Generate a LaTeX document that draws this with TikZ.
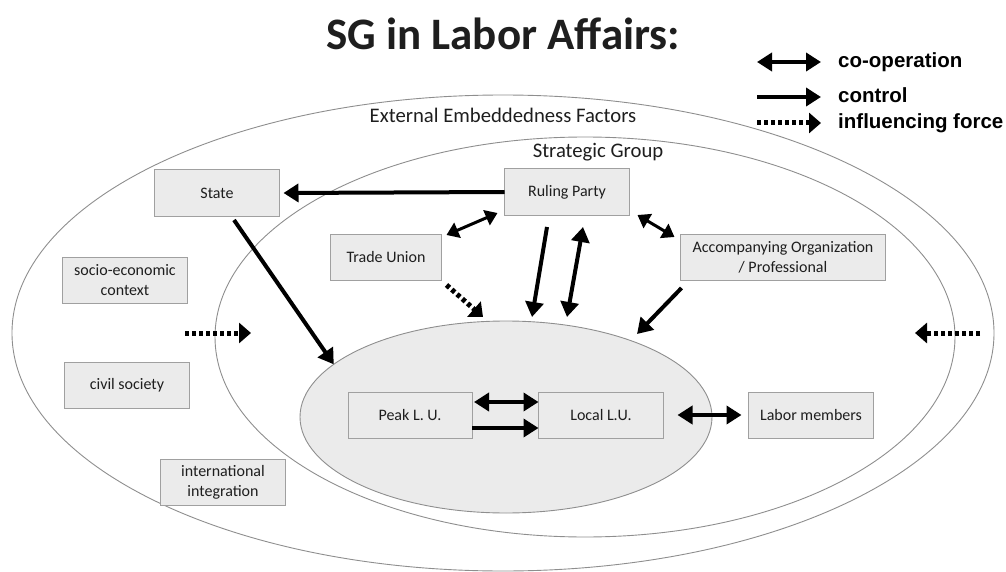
\documentclass[tikz,border=0pt]{standalone}
\usepackage{fontspec}
\setmainfont{Carlito}
\newfontfamily\legendfont{Liberation Sans}
\usetikzlibrary{arrows.meta,shapes.geometric,calc}
\definecolor{boxfill}{HTML}{EBEBEB}
\definecolor{boxline}{HTML}{A0A0A0}
\definecolor{ringline}{HTML}{8E8E8E}
\definecolor{corefill}{HTML}{EBEBEB}
\definecolor{ink}{HTML}{1E1E1E}

\begin{document}
\begin{tikzpicture}[x=1pt,y=-1pt,
  box/.style={draw=boxline, fill=boxfill, line width=1pt, minimum width=125pt,
    minimum height=46pt, inner sep=0pt, outer sep=0pt, align=center,
    font=\fontsize{16}{20}\selectfont, text=ink},
  ring/.style={draw=ringline, line width=0.9pt},
  core/.style={ellipse, draw=ringline, line width=0.9pt, fill=corefill,
    minimum width=412pt, minimum height=192pt, inner sep=0pt, outer sep=0pt},
  ringlabel/.style={font=\fontsize{20.7}{24}\selectfont, text=ink, anchor=base},
  legendtext/.style={font=\legendfont\bfseries\fontsize{20.5}{24}\selectfont,
    anchor=base west, inner sep=0pt},
  ctrl/.style={line width=4pt, -{Triangle[length=15pt,width=18pt]}},
  coop/.style={line width=4pt,
    {Triangle[length=15pt,width=18pt]}-{Triangle[length=15pt,width=18pt]}},
  coopsmall/.style={line width=3pt,
    {Triangle[length=12pt,width=16pt]}-{Triangle[length=12pt,width=16pt]}},
  infl/.style={line width=5pt, dash pattern=on 4pt off 3pt,
    -{Triangle[length=12pt,width=20pt]}},
]
\useasboundingbox (0,0) rectangle (1006,572);

% rings: external factors and strategic group
\draw[ring] (503,333) ellipse [x radius=491pt, y radius=238pt];
\draw[ring] (585,337) ellipse [x radius=370pt, y radius=200pt];

% labor union core
\node[core] (core) at (506,417) {};

% titles
\node[font=\bfseries\fontsize{45}{50}\selectfont, text=ink, anchor=base] (title) at (503,50) {SG in Labor Affairs:};
\node[ringlabel] (ext) at (503,123) {External Embeddedness Factors};
\node[ringlabel] (sg) at (598,158) {Strategic Group};

% actors
\node[box] (state) at (217,193) {State};
\node[box] (rp) at (567,192) {Ruling Party};
\node[box, minimum width=111pt] (tu) at (386,257) {Trade Union};
\node[box, minimum width=205pt] (acc) at (783,257) {Accompanying Organization\\/ Professional};
\node[box] (socio) at (125,280) {socio-economic\\context};
\node[box] (civil) at (127,385) {civil society};
\node[box] (intl) at (223,482) {international\\integration};
\node[box, minimum width=124pt] (peak) at (410,415) {Peak L. U.};
\node[box] (local) at (601,415) {Local L.U.};
\node[box] (labor) at (811,415) {Labor members};

% relations
\draw[ctrl] (rp.west) -- ([xshift=4pt]state.east);
\draw[ctrl] ([shift={(17pt,-4pt)}]state.south) -- (core.163);
\draw[coopsmall] ([shift={(5pt,-1pt)}]tu.north east) -- ([shift={(-7pt,2pt)}]rp.south west);
\draw[infl] ([shift={(5pt,-5pt)}]tu.south east) -- ([shift={(-23pt,4pt)}]core.north);
\draw[ctrl] ([shift={(-20pt,-12pt)}]rp.south) -- ([shift={(26pt,4pt)}]core.north);
\draw[coop] ([shift={(61pt,4pt)}]core.north) -- ([shift={(16pt,-12pt)}]rp.south);
\draw[coopsmall] ([xshift=8pt]rp.south east) -- ([shift={(-6pt,-3pt)}]acc.north west);
\draw[ctrl] ([shift={(1pt,-8pt)}]acc.south west) -- ([shift={(131pt,-13pt)}]core.north);
\draw[coop] ([shift={(2pt,13pt)}]peak.east) -- ([yshift=13pt]local.west);
\draw[ctrl] ([yshift=-13pt]peak.east) -- ([yshift=-13pt]local.west);
\draw[coop] ([xshift=14pt]local.east) -- ([xshift=-7pt]labor.west);

% outside influences
\coordinate (inL1) at (185,333);
\coordinate (inL2) at (251,333);
\coordinate (inR1) at (980,333);
\coordinate (inR2) at (915,333);
\draw[infl] (inL1) -- (inL2);
\draw[infl] (inR1) -- (inR2);

% legend
\coordinate (lg1a) at (757,62);  \coordinate (lg1b) at (821,62);
\coordinate (lg2a) at (757,97);  \coordinate (lg2b) at (821,97);
\coordinate (lg3a) at (757,123); \coordinate (lg3b) at (821,123);
\draw[coop] (lg1a) -- (lg1b);
\draw[ctrl] (lg2a) -- (lg2b);
\draw[infl] (lg3a) -- (lg3b);
\node[legendtext] (lgt1) at (838,68) {co-operation};
\node[legendtext] (lgt2) at (838,103) {control};
\node[legendtext] (lgt3) at (838,129) {influencing force};
\end{tikzpicture}
\end{document}
